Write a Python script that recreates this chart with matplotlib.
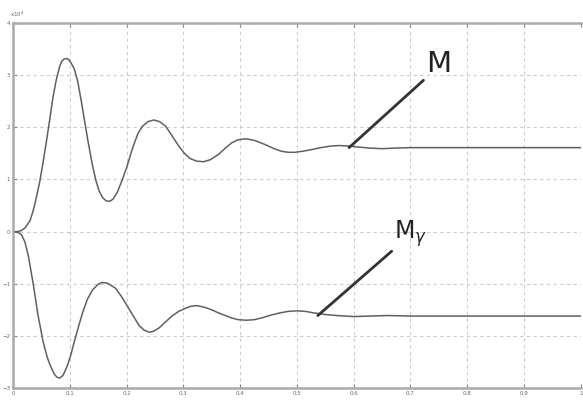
import matplotlib
matplotlib.use("Agg")
import matplotlib.pyplot as plt

# valores (eixo y em unidades de 1e4)
t_M = [0.0, 0.008, 0.015, 0.022, 0.030, 0.035, 0.040, 0.047, 0.053, 0.059, 0.065, 0.070,
       0.076, 0.082, 0.086, 0.090, 0.094, 0.098, 0.102, 0.108, 0.114, 0.120, 0.126, 0.132,
       0.140, 0.146, 0.152, 0.158, 0.164, 0.170, 0.176, 0.184, 0.192, 0.200, 0.210, 0.220,
       0.228, 0.238, 0.248, 0.258, 0.269, 0.280, 0.292, 0.302, 0.312, 0.324, 0.336, 0.348,
       0.362, 0.374, 0.385, 0.396, 0.410, 0.425, 0.444, 0.460, 0.473, 0.485, 0.496, 0.510,
       0.525, 0.542, 0.560, 0.575, 0.592, 0.610, 0.630, 0.650, 0.670, 0.700, 0.750, 0.800,
       0.850, 0.900, 0.950, 1.0]
M = [0.0, 0.0, 0.02, 0.08, 0.21, 0.38, 0.60, 0.95, 1.33, 1.74, 2.17, 2.55,
     2.90, 3.16, 3.27, 3.31, 3.32, 3.30, 3.24, 3.12, 2.88, 2.52, 2.13, 1.74,
     1.27, 0.98, 0.77, 0.65, 0.59, 0.58, 0.62, 0.76, 0.98, 1.22, 1.58, 1.88,
     2.02, 2.11, 2.14, 2.11, 2.02, 1.84, 1.64, 1.50, 1.40, 1.35, 1.34, 1.38,
     1.48, 1.60, 1.70, 1.76, 1.78, 1.75, 1.67, 1.59, 1.54, 1.52, 1.52, 1.54,
     1.57, 1.61, 1.64, 1.65, 1.64, 1.62, 1.60, 1.59, 1.60, 1.61, 1.61, 1.61,
     1.61, 1.61, 1.61, 1.61]

t_My = [0.0, 0.008, 0.015, 0.021, 0.027, 0.036, 0.044, 0.053, 0.060, 0.065, 0.072, 0.077,
        0.082, 0.088, 0.094, 0.101, 0.108, 0.116, 0.123, 0.131, 0.140, 0.150, 0.156, 0.161,
        0.166, 0.171, 0.181, 0.192, 0.202, 0.212, 0.222, 0.231, 0.240, 0.248, 0.257, 0.268,
        0.280, 0.292, 0.304, 0.314, 0.324, 0.337, 0.350, 0.362, 0.374, 0.386, 0.397, 0.411,
        0.425, 0.440, 0.455, 0.470, 0.485, 0.500, 0.515, 0.530, 0.550, 0.570, 0.600, 0.630,
        0.660, 0.700, 0.750, 0.800, 0.850, 0.900, 0.950, 1.0]
My = [0.0, -0.01, -0.06, -0.20, -0.46, -1.03, -1.60, -2.11, -2.40, -2.55, -2.72, -2.79,
      -2.81, -2.76, -2.62, -2.40, -2.11, -1.80, -1.54, -1.30, -1.12, -1.01, -0.98, -0.98,
      -0.99, -1.02, -1.09, -1.26, -1.44, -1.62, -1.80, -1.89, -1.93, -1.91, -1.85, -1.74,
      -1.62, -1.53, -1.47, -1.43, -1.42, -1.45, -1.50, -1.56, -1.61, -1.66, -1.69, -1.70,
      -1.69, -1.65, -1.60, -1.56, -1.53, -1.52, -1.53, -1.56, -1.59, -1.61, -1.63, -1.62,
      -1.61, -1.62, -1.62, -1.62, -1.62, -1.62, -1.62, -1.62]

x_ticks = [0, 0.1, 0.2, 0.3, 0.4, 0.5, 0.6, 0.7, 0.8, 0.9, 1]
x_labels = ["0", "0.1", "0.2", "0.3", "0.4", "0.5", "0.6", "0.7", "0.8", "0.9", "1"]
y_ticks = [-3, -2, -1, 0, 1, 2, 3, 4]

plt.rcParams['mathtext.fontset'] = 'dejavusans'

fig = plt.figure(figsize=(5.83, 4.01), dpi=100)
ax = fig.add_axes([0.0223, 0.0324, 0.9737, 0.9102])

ax.plot(t_M, M, color='#606060', lw=1.1)
ax.plot(t_My, My, color='#606060', lw=1.1)

ax.set_xlim(0, 1)
ax.set_ylim(-3, 4)
ax.set_xticks(x_ticks)
ax.set_xticklabels(x_labels)
ax.set_yticks(y_ticks)
ax.tick_params(direction='in', length=3, width=0.8, color='#888888',
               labelsize=4, labelcolor='#666666', pad=2, top=True)
ax.grid(True, color='#cccccc', linestyle=(0, (3, 3)), lw=0.8)
for s in ax.spines.values():
    s.set_color('#aaaaaa')
    s.set_linewidth(1.8)
ax.spines['right'].set_visible(False)

ax.text(-0.005, 1.01, "x10$^4$", transform=ax.transAxes, fontsize=4,
        color='#666666', ha='left', va='bottom')

# linhas de indicacao
ax.annotate("M", xy=(0.592, 1.61), xytext=(0.728, 2.95), fontsize=21,
            color='#222222', ha='left', va='bottom',
            arrowprops=dict(arrowstyle='-', color='#333333', lw=2, shrinkA=0, shrinkB=0,
                            relpos=(0.0, 0.0)))
ax.annotate("M$_\\gamma$", xy=(0.537, -1.61), xytext=(0.672, -0.33), fontsize=17,
            color='#222222', ha='left', va='bottom',
            arrowprops=dict(arrowstyle='-', color='#333333', lw=2, shrinkA=0, shrinkB=0,
                            relpos=(0.0, 0.0)))

fig.savefig("out.png", dpi=100)
